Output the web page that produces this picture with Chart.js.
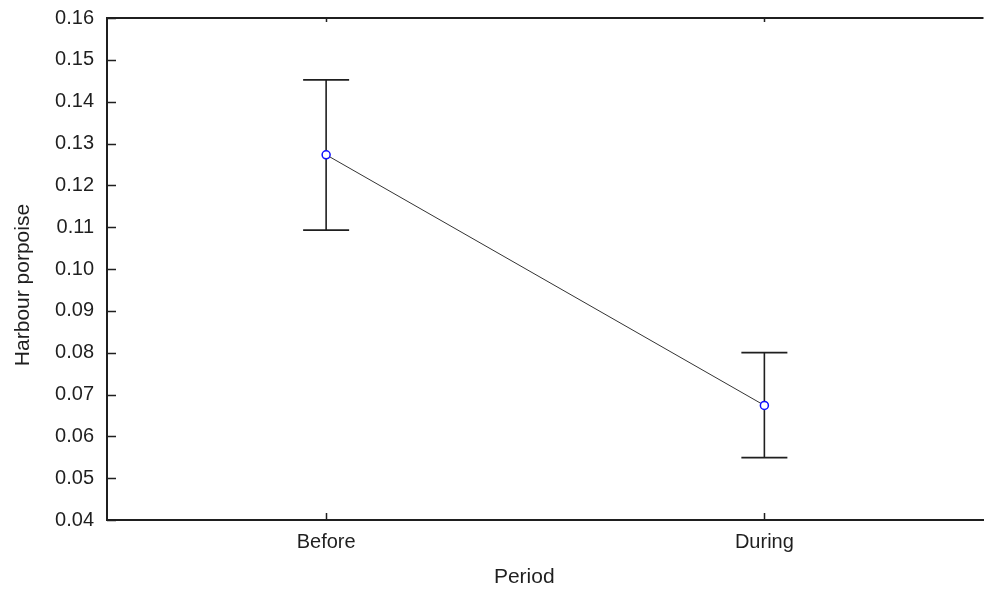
<!DOCTYPE html>
<html>
<head>
<meta charset="utf-8">
<script src="https://cdn.jsdelivr.net/npm/chart.js@4"></script>
<style>
  html, body { margin: 0; padding: 0; overflow: hidden; background: #fff; }
  #wrap { width: 989px; height: 590px; }
</style>
</head>
<body>
<div id="wrap"><canvas id="chart"></canvas></div>
<script>
const categories = ['Before', 'During'];
const means = [0.1273, 0.0674];
const upperValues = [0.1452, 0.0800];
const lowerValues = [0.1093, 0.0549];
const yTicks = [0.04, 0.05, 0.06, 0.07, 0.08, 0.09, 0.10, 0.11, 0.12, 0.13, 0.14, 0.15, 0.16];

const FONT = '"Liberation Sans", Arial, sans-serif';
const INK = '#1f1f1f';

// barras de erro, marcas internas e borda superior
const errorBarsPlugin = {
  id: 'errorBars',
  beforeDatasetsDraw(chart) {
    const { ctx, scales: { x, y } } = chart;
    ctx.save();
    ctx.strokeStyle = INK;
    ctx.lineWidth = 1.6;
    categories.forEach((c, i) => {
      const px = x.getPixelForValue(i);
      const top = y.getPixelForValue(upperValues[i]);
      const bot = y.getPixelForValue(lowerValues[i]);
      ctx.beginPath();
      ctx.moveTo(px, top); ctx.lineTo(px, bot);
      ctx.moveTo(px - 23, top); ctx.lineTo(px + 23, top);
      ctx.moveTo(px - 23, bot); ctx.lineTo(px + 23, bot);
      ctx.stroke();
    });
    ctx.restore();
  },
  afterDraw(chart) {
    const { ctx, chartArea: a, scales: { x, y } } = chart;
    ctx.save();
    ctx.strokeStyle = INK;
    ctx.lineWidth = 1.5;
    ctx.beginPath();
    y.ticks.forEach(t => {
      const py = Math.round(y.getPixelForValue(t.value)) + 0.5;
      ctx.moveTo(a.left, py); ctx.lineTo(a.left + 9, py);
    });
    x.ticks.forEach(t => {
      const px = Math.round(x.getPixelForValue(t.value)) + 0.5;
      ctx.moveTo(px, a.bottom); ctx.lineTo(px, a.bottom - 7);
      ctx.moveTo(px, a.top); ctx.lineTo(px, a.top + 4);
    });
    ctx.stroke();
    ctx.lineWidth = 2;
    ctx.beginPath();
    ctx.moveTo(a.left, a.top); ctx.lineTo(a.right, a.top);
    ctx.stroke();

    // títulos dos eixos
    ctx.fillStyle = INK;
    ctx.font = '21px ' + FONT;
    ctx.textAlign = 'center';
    ctx.textBaseline = 'middle';
    ctx.fillText('Period', (a.left + a.right) / 2 - 21, a.bottom + 57);
    ctx.translate(23, (a.top + a.bottom) / 2 + 16);
    ctx.rotate(-Math.PI / 2);
    ctx.fillText('Harbour porpoise', 0, 0);
    ctx.restore();
  }
};

const ctx = document.getElementById('chart').getContext('2d');
new Chart(ctx, {
  type: 'line',
  data: {
    labels: categories,
    datasets: [{
      data: means,
      borderColor: '#333',
      borderWidth: 1,
      pointRadius: 4,
      pointBorderWidth: 1.5,
      pointBorderColor: '#1010ff',
      pointBackgroundColor: '#fff',
      tension: 0
    }]
  },
  options: {
    responsive: true,
    maintainAspectRatio: false,
    animation: false,
    layout: { padding: { top: 18, right: 0, bottom: 0, left: 0 } },
    plugins: { legend: { display: false }, tooltip: { enabled: false } },
    scales: {
      x: {
        offset: true,
        grid: { display: false, drawTicks: false },
        border: { display: true, color: INK, width: 2 },
        ticks: { color: INK, font: { family: FONT, size: 20 }, padding: 10 },
        afterFit(scale) {
          scale.height = 70;
          scale.paddingLeft = 0;
          scale.paddingRight = 0;
        }
      },
      y: {
        min: 0.04,
        max: 0.16,
        afterBuildTicks(scale) { scale.ticks = yTicks.map(v => ({ value: v })); },
        grid: { display: false, drawTicks: false },
        border: { display: true, color: INK, width: 2 },
        ticks: {
          color: INK,
          font: { family: FONT, size: 20 },
          padding: 13,
          callback: v => Number(v).toFixed(2)
        },
        afterFit(scale) {
          scale.width = 107;
          scale.paddingTop = 0;
          scale.paddingBottom = 0;
        }
      }
    }
  },
  plugins: [errorBarsPlugin]
});
</script>
</body>
</html>
